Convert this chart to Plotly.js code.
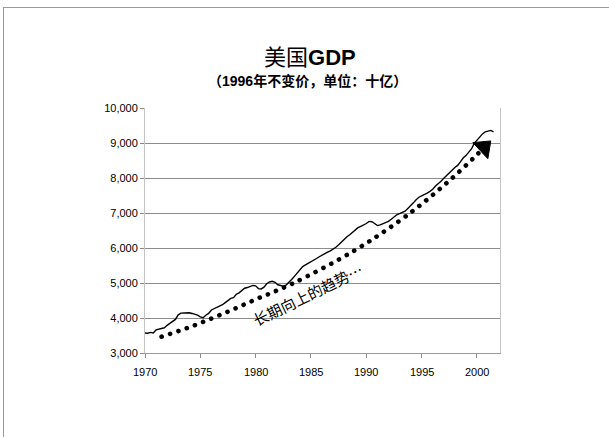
<!DOCTYPE html>
<html>
<head>
<meta charset="utf-8">
<script src="https://cdn.plot.ly/plotly-3.0.1.min.js"></script>
<style>
  html, body { margin: 0; padding: 0; background: #fff; }
  #chart { width: 609px; height: 437px; }
  #frame { position: absolute; left: 3px; top: 7px; width: 700px; height: 500px;
           border-top: 1px solid #9a9a9a; border-left: 1px solid #9a9a9a;
           pointer-events: none; z-index: 5; }
</style>
</head>
<body>
<div id="frame"></div>
<div id="chart"></div>
<script>
var startYear = 1970;
var gdp = [
  3570, 3565, 3590, 3575,   // 1970
  3660, 3680, 3700, 3720,   // 1971
  3790, 3860, 3905, 3960,   // 1972
  4090, 4140, 4150, 4160,   // 1973
  4150, 4130, 4110, 4080,   // 1974
  4030, 4010, 4080, 4130,   // 1975
  4230, 4270, 4290, 4330,   // 1976
  4380, 4440, 4510, 4560,   // 1977
  4580, 4680, 4720, 4780,   // 1978
  4850, 4870, 4910, 4930,   // 1979
  4920, 4840, 4830, 4880,   // 1980
  4980, 5030, 5050, 5020,   // 1981
  4950, 4920, 4910, 4940,   // 1982
  5010, 5100, 5190, 5280,   // 1983
  5390, 5470, 5520, 5560,   // 1984
  5600, 5640, 5700, 5750,   // 1985
  5800, 5840, 5880, 5920,   // 1986
  5960, 6020, 6090, 6170,   // 1987
  6240, 6320, 6380, 6450,   // 1988
  6520, 6580, 6620, 6650,   // 1989
  6700, 6760, 6750, 6700,   // 1990
  6640, 6660, 6690, 6710,   // 1991
  6760, 6820, 6880, 6950,   // 1992
  6980, 7010, 7050, 7130,   // 1993
  7200, 7290, 7380, 7450,   // 1994
  7490, 7520, 7570, 7620,   // 1995
  7680, 7770, 7830, 7910,   // 1996
  7990, 8060, 8150, 8220,   // 1997
  8300, 8360, 8460, 8570,   // 1998
  8640, 8730, 8830, 8990,   // 1999
  9080, 9200, 9260, 9320,   // 2000
  9350, 9360, 9320          // 2001
];

// Dotted long-run trend; last point is where the arrowhead sits
var trendYears  = [1971.5, 1974.45, 1977.4, 1980.3, 1983.25, 1988.8, 1992.8, 1995.3, 1997.7, 2000.0, 2000.62];
var trendValues = [3466,   3789,    4170,   4571,   4971,    5903,   6731,   7333,   7980,   8666,   8874];

var xTicks = [1970, 1975, 1980, 1985, 1990, 1995, 2000];
var xTickText = ['1970', '1975', '1980', '1985', '1990', '1995', '2000'];
var yTicks = [3000, 4000, 5000, 6000, 7000, 8000, 9000, 10000];

var titleText = '美国<b>GDP</b>';
var subtitleText = '<b>（1996年不变价，单位：十亿）</b>';
var trendLabel = '长期向上的趋势…';
var trendLabelPos = [1984.7, 4660];

var quarters = gdp.map(function (v, i) { return startYear + i / 4; });
var last = trendYears.length - 1;

var traces = [
  {
    x: quarters, y: gdp, type: 'scatter', mode: 'lines',
    line: { color: '#000', width: 1.4 }, hoverinfo: 'skip'
  },
  {
    x: trendYears, y: trendValues, type: 'scatter', mode: 'lines',
    line: { color: '#000', width: 4.6, shape: 'spline' },
    hoverinfo: 'skip', name: 'trend'
  },
  {
    x: trendYears.slice(last), y: trendValues.slice(last), type: 'scatter', mode: 'markers',
    marker: { symbol: 'triangle-up', size: 19, color: '#000', opacity: 1, angle: 47,
              line: { width: 1, color: '#000' } },
    hoverinfo: 'skip'
  }
];

var fontFam = '"Liberation Sans", Arial, "Noto Sans CJK SC", sans-serif';

var annotations = [
  {
    xref: 'paper', yref: 'paper', x: 0.466, y: 1.0, yshift: 51,
    xanchor: 'center', yanchor: 'middle', showarrow: false,
    text: titleText,
    font: { family: fontFam, size: 22, color: '#000' }
  },
  {
    xref: 'paper', yref: 'paper', x: 0.457, y: 1.0, yshift: 27,
    xanchor: 'center', yanchor: 'middle', showarrow: false,
    text: subtitleText,
    font: { family: fontFam, size: 14, color: '#000' }
  },
  {
    xref: 'x', yref: 'y', x: trendLabelPos[0], y: trendLabelPos[1],
    xanchor: 'center', yanchor: 'middle', showarrow: false,
    text: trendLabel, textangle: -26,
    font: { family: '"Noto Sans CJK SC", "Liberation Sans", sans-serif', size: 15, color: '#000' }
  }
];
// x tick labels drawn as plain text at the tick positions
xTicks.forEach(function (t, i) {
  annotations.push({
    xref: 'x', yref: 'paper', x: t, y: 0, yshift: -19,
    xanchor: 'center', yanchor: 'middle', showarrow: false,
    text: xTickText[i], font: { family: fontFam, size: 11, color: '#000' }
  });
});

var layout = {
  width: 609, height: 437,
  margin: { l: 145, r: 109, t: 108, b: 84 },
  paper_bgcolor: '#fff', plot_bgcolor: '#fff',
  showlegend: false,
  font: { family: fontFam, color: '#000000', size: 11 },
  xaxis: {
    range: [1970, 2002.08], tickmode: 'array', tickvals: xTicks, showticklabels: false,
    ticks: 'outside', ticklen: 4, tickcolor: '#8a8a8a',
    showgrid: false, zeroline: false,
    showline: true, linecolor: '#9a9a9a', linewidth: 1
  },
  yaxis: {
    range: [3000, 10000], tickmode: 'array', tickvals: yTicks, tickformat: ',d',
    ticks: 'outside', ticklen: 4, tickcolor: '#8a8a8a',
    showgrid: true, gridcolor: '#8c8c8c', gridwidth: 1, zeroline: false,
    showline: true, linecolor: '#c4c4c4', linewidth: 1, mirror: true,
    tickfont: { size: 11, color: '#000000', family: fontFam }
  },
  annotations: annotations
};

Plotly.newPlot('chart', traces, layout, { displayModeBar: false, staticPlot: true }).then(function () {
  // round dots for the trend line
  var lines = document.querySelectorAll('.scatterlayer .trace');
  if (lines.length > 1) {
    var p = lines[1].querySelector('path.js-line');
    if (p) {
      p.style.strokeLinecap = 'round';
      p.style.strokeDasharray = '0.1px,8.7px';
    }
  }
});
</script>
</body>
</html>
